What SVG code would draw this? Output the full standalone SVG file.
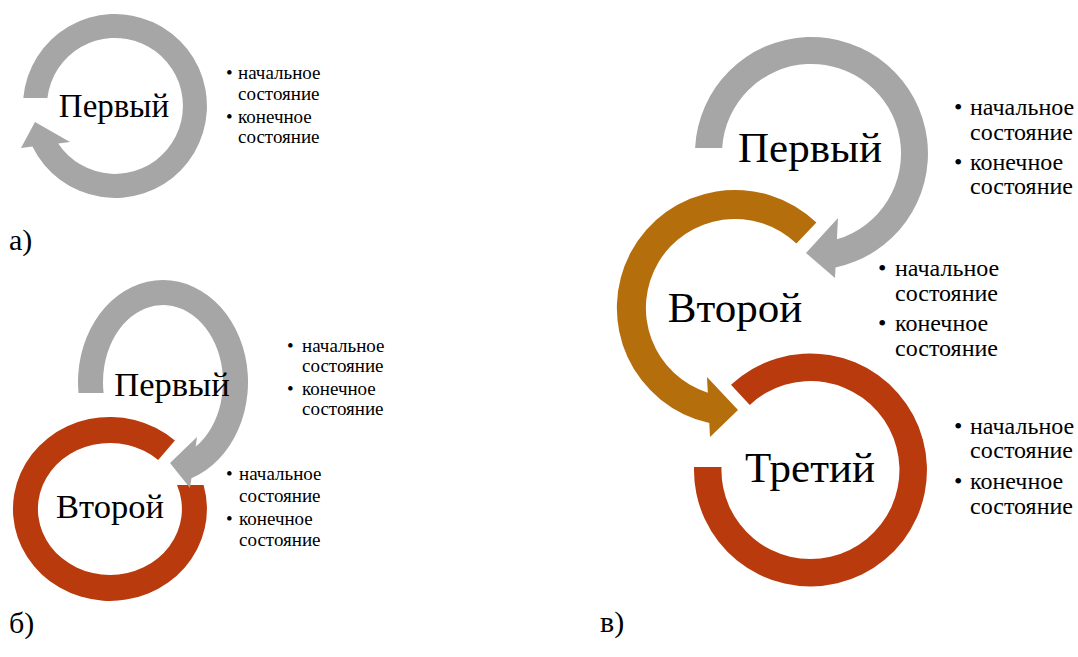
<svg xmlns="http://www.w3.org/2000/svg" width="1078" height="657" viewBox="0 0 1078 657" font-family="Liberation Serif, DejaVu Serif, serif">
<style>
.gray{fill:#A6A6A6}
.brown{fill:#B56E0C}
.red{fill:#B83A0D}
.big{text-anchor:middle}
.s1{font-size:19px}
.s2{font-size:24px}
.lab{font-size:30px}
</style>
<rect width="1078" height="657" fill="#fff"/>

<!-- Panel a -->
<g id="a-first">
<path class="gray" d="M 23.3 98 A 92 92 0 1 1 32.4 146.6 L 21 148 L 35 122 L 70 142 L 58.2 143.4 A 68 68 0 1 0 47.4 98 Z"/>
<text class="big" x="114" y="117" font-size="33">Первый</text>
<text class="s1" x="226" y="79">•</text>
<text class="s1" x="238" y="79">начальное</text>
<text class="s1" x="238" y="100">состояние</text>
<text class="s1" x="226" y="123">•</text>
<text class="s1" x="238" y="123">конечное</text>
<text class="s1" x="238" y="143">состояние</text>
</g>
<text class="lab" x="9" y="250">а)</text>

<!-- Panel b -->
<g id="b-second">
<path class="red" d="M 203.6 485 A 97 92 0 1 1 174.9 440.6 L 158.2 460 A 72 66 0 1 0 177 485 Z"/>
<text class="big" x="110" y="518" font-size="34.5">Второй</text>
<text class="s1" x="226" y="480">•</text>
<text class="s1" x="239" y="480">начальное</text>
<text class="s1" x="239" y="502">состояние</text>
<text class="s1" x="226" y="525">•</text>
<text class="s1" x="239" y="525">конечное</text>
<text class="s1" x="239" y="546">состояние</text>
</g>
<g id="b-first">
<path class="gray" d="M 78.5 393 A 85 102 0 1 1 191.4 478.2 L 190 488 L 170 463 L 197 437 L 195.7 446.6 A 60 77 0 1 0 103.6 393 Z"/>
<text class="big" x="172" y="396" font-size="34.5">Первый</text>
<text class="s1" x="287" y="352">•</text>
<text class="s1" x="302" y="352">начальное</text>
<text class="s1" x="302" y="372">состояние</text>
<text class="s1" x="287" y="395">•</text>
<text class="s1" x="302" y="395">конечное</text>
<text class="s1" x="302" y="415">состояние</text>
</g>
<text class="lab" x="9" y="633">б)</text>

<!-- Panel c -->
<g id="c-third">
<path class="red" d="M 731.0 384.8 A 116.5 116.5 0 1 1 694.0 467 L 721.5 467 A 89 89 0 1 0 749.8 404.9 Z"/>
<text class="big" x="810" y="482" font-size="43">Третий</text>
<text class="s2" x="954" y="434">•</text>
<text class="s2" x="970" y="434">начальное</text>
<text class="s2" x="970" y="458">состояние</text>
<text class="s2" x="954" y="489">•</text>
<text class="s2" x="970" y="489">конечное</text>
<text class="s2" x="970" y="514">состояние</text>
</g>
<g id="c-second">
<path class="brown" d="M 816.4 222.6 A 118 118 0 1 0 709.3 423.1 L 710 437 L 738 410 L 707 377 L 707.8 392.7 A 89 89 0 1 1 796.4 243.6 Z"/>
<text class="big" x="735" y="322" font-size="43">Второй</text>
<text class="s2" x="878" y="276">•</text>
<text class="s2" x="895" y="276">начальное</text>
<text class="s2" x="895" y="301">состояние</text>
<text class="s2" x="878" y="331">•</text>
<text class="s2" x="895" y="331">конечное</text>
<text class="s2" x="895" y="356">состояние</text>
</g>
<g id="c-first">
<path class="gray" d="M 695.1 148 A 116.5 116.5 0 1 1 835.5 267.5 L 835 278 L 806 253 L 838 218 L 836.9 239.3 A 89.5 89.5 0 1 0 722.2 148 Z"/>
<text class="big" x="810" y="162" font-size="43">Первый</text>
<text class="s2" x="954" y="115">•</text>
<text class="s2" x="970" y="115">начальное</text>
<text class="s2" x="970" y="140">состояние</text>
<text class="s2" x="954" y="170">•</text>
<text class="s2" x="970" y="170">конечное</text>
<text class="s2" x="970" y="194">состояние</text>
</g>
<text class="lab" x="600" y="632">в)</text>
</svg>
